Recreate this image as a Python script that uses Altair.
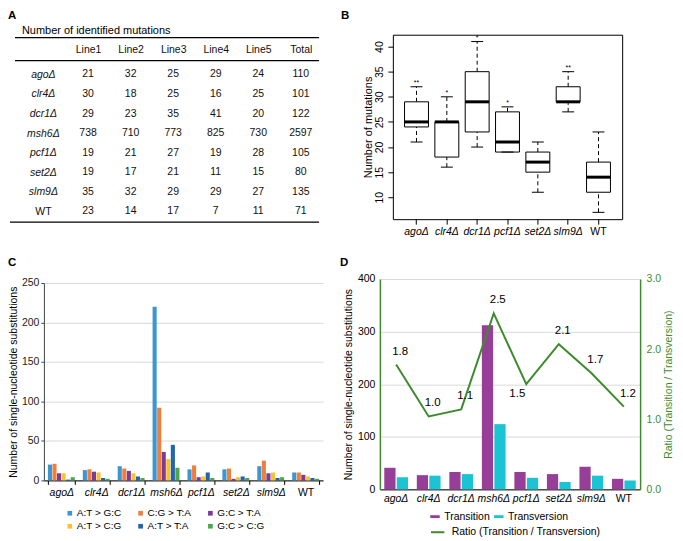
import altair as alt
import pandas as pd

FONT = "Liberation Sans"
GREEN = "#3E8B2E"

# ---------------- data ----------------
genotypes = ["agoΔ", "clr4Δ", "dcr1Δ", "msh6Δ", "pcf1Δ", "set2Δ", "slm9Δ", "WT"]
table_cols = ["Line1", "Line2", "Line3", "Line4", "Line5", "Total"]
line1 = [21, 30, 29, 738, 19, 19, 35, 23]
line2 = [32, 18, 23, 710, 21, 17, 32, 14]
line3 = [25, 25, 35, 773, 27, 21, 29, 17]
line4 = [29, 16, 41, 825, 19, 11, 29, 7]
line5 = [24, 25, 20, 730, 28, 15, 27, 11]
total = [110, 101, 122, 2597, 105, 80, 135, 71]
table_title = "Number of identified mutations"

box_genotypes = ["agoΔ", "clr4Δ", "dcr1Δ", "pcf1Δ", "set2Δ", "slm9Δ", "WT"]
significance = ["**", "*", "*", "*", "", "**", ""]

subst_types = ["A:T > G:C", "C:G > T:A", "G:C > T:A", "A:T > C:G", "A:T > T:A", "G:C > C:G"]
subst_colors = ["#3A97D4", "#F07F3C", "#7B3C99", "#FCC12E", "#2265AE", "#4CA64C"]
at_gc = [20, 13, 18, 220, 14, 14, 18, 10]
cg_ta = [21, 14, 15, 92, 19, 15, 25, 10]
gc_ta = [9, 11, 12, 36, 4, 2, 9, 7]
at_cg = [9, 10, 9, 27, 5, 4, 10, 5]
at_ta = [1, 3, 5, 45, 10, 5, 3, 3]
gc_cg = [4, 2, 3, 16, 3, 3, 4, 2]

class_names = ["Transition", "Transversion"]
class_colors = ["#973F98", "#1BC3D3"]
transition = [41, 27, 33, 312, 33, 29, 43, 20]
transversion = [23, 26, 29, 124, 22, 14, 26, 17]
ratio = [1.78, 1.04, 1.14, 2.51, 1.50, 2.07, 1.66, 1.18]
ratio_name = "Ratio (Transition / Transversion)"

y_title_subst = "Number of single-nucleotide substitutions"

# ---------------- tables ----------------
line_arrays = [line1, line2, line3, line4, line5, total]
df_tbl = pd.DataFrame([
    {"genotype": g, "column": c, "value": arr[i]}
    for i, g in enumerate(genotypes)
    for c, arr in zip(table_cols, line_arrays)
])

df_box = pd.DataFrame([
    {"genotype": g, "mutations": arr[genotypes.index(g)]}
    for g in box_genotypes
    for arr in line_arrays[:5]
])
df_sig = pd.DataFrame({"genotype": box_genotypes, "sig": significance})

subst_arrays = [at_gc, cg_ta, gc_ta, at_cg, at_ta, gc_cg]
df_sub = pd.DataFrame([
    {"genotype": g, "type": t, "count": arr[i]}
    for i, g in enumerate(genotypes)
    for t, arr in zip(subst_types, subst_arrays)
])

df_cls = pd.DataFrame([
    {"genotype": g, "cls": c, "count": arr[i]}
    for i, g in enumerate(genotypes)
    for c, arr in zip(class_names, [transition, transversion])
])
df_ratio = pd.DataFrame({"genotype": genotypes, "ratio": ratio, "series": [ratio_name] * len(genotypes)})

italic_cond = {"condition": {"test": "datum.value == 'WT'", "value": "normal"}, "value": "italic"}
one = pd.DataFrame({"k": [0]})


def label(txt, x, y, size=11.5, weight="bold", align="left", baseline="top"):
    return alt.Chart(pd.DataFrame({"t": [txt]})).mark_text(
        fontSize=size, fontWeight=weight, align=align, baseline=baseline, font=FONT, color="black"
    ).encode(text="t:N", x=alt.value(x), y=alt.value(y))


def hrule(x1, x2, y):
    return alt.Chart(one).mark_rule(color="black", strokeWidth=1.2).encode(
        x=alt.value(x1), x2=alt.value(x2), y=alt.value(y))


# ---------------- panel A ----------------
A_text = alt.Chart(df_tbl).mark_text(fontSize=10.5, font=FONT, color="#111").encode(
    x=alt.X("column:N", sort=table_cols,
            scale=alt.Scale(domain=table_cols, range=[23, 279], paddingInner=0, paddingOuter=0),
            axis=alt.Axis(orient="top", title=None, domain=False, ticks=False, tickSize=0, labelAngle=0,
                          labelPadding=0, offset=-15, labelBaseline="middle", labelAlign="center",
                          labelFontSize=10.5, labelColor="#111")),
    y=alt.Y("genotype:N", sort=genotypes,
            scale=alt.Scale(domain=genotypes, range=[30, 187], paddingInner=0, paddingOuter=0),
            axis=alt.Axis(orient="left", title=None, domain=False, ticks=False, tickSize=0,
                          labelPadding=0, offset=1, labelAlign="center", labelBaseline="middle",
                          labelFontStyle=italic_cond, labelFontSize=10.5, labelColor="#111")),
    text="value:Q",
)
panelA = alt.layer(
    A_text,
    hrule(-29, 276, 3), hrule(-29, 276, 26), hrule(-34, 276, 188),
    label(table_title, -22, -4, size=11, weight="normal", baseline="middle"),
    label("A", -36, -25),
).properties(width=292, height=189)

# ---------------- panel B ----------------
bx = alt.X("genotype:N", sort=box_genotypes,
           scale=alt.Scale(domain=box_genotypes, paddingInner=0, paddingOuter=0.28),
           axis=alt.Axis(title=None, domain=False, ticks=True, tickSize=5, tickColor="black", labelAngle=0,
                         labelPadding=2, labelFontSize=10.5, labelFontStyle=italic_cond, grid=False,
                         labelColor="black"))
yscaleB = alt.Scale(domain=[5.64, 42.36], nice=False, zero=False)
yaxisB = alt.Axis(title="Number of mutations", values=[10, 15, 20, 25, 30, 35, 40], labelAngle=270,
                  labelAlign="center", labelBaseline="bottom", tickSize=5, labelPadding=3, domain=False,
                  grid=False, ticks=True, tickColor="black", labelFontSize=10.5, titleFontSize=11,
                  titlePadding=1, labelColor="black")
baseB = alt.Chart(df_box).transform_aggregate(
    mn="min(mutations)", q1="q1(mutations)", med="median(mutations)", q3="q3(mutations)",
    mx="max(mutations)", groupby=["genotype"])
wl = baseB.mark_rule(color="black", strokeDash=[4, 3], strokeWidth=1).encode(
    x=bx, y=alt.Y("mn:Q", scale=yscaleB, axis=yaxisB), y2="q1:Q")
wh = baseB.mark_rule(color="black", strokeDash=[4, 3], strokeWidth=1).encode(
    x=bx, y=alt.Y("q3:Q", scale=yscaleB, axis=yaxisB), y2="mx:Q")
bxs = baseB.mark_bar(size=24, fill="white", stroke="black", strokeWidth=1).encode(
    x=bx, y=alt.Y("q1:Q", scale=yscaleB, axis=yaxisB), y2="q3:Q")
med = baseB.mark_tick(size=24, thickness=3, color="black", opacity=1).encode(
    x=bx, y=alt.Y("med:Q", scale=yscaleB, axis=yaxisB))
cl = baseB.mark_tick(size=12, thickness=1, color="black", opacity=1).encode(
    x=bx, y=alt.Y("mn:Q", scale=yscaleB, axis=yaxisB))
ch = baseB.mark_tick(size=12, thickness=1, color="black", opacity=1).encode(
    x=bx, y=alt.Y("mx:Q", scale=yscaleB, axis=yaxisB))
sig = baseB.transform_lookup(
    lookup="genotype", from_=alt.LookupData(df_sig, "genotype", ["sig"])
).mark_text(fontSize=7, baseline="bottom", dy=-1, font=FONT, color="black").encode(
    x=bx, y=alt.Y("mx:Q", scale=yscaleB, axis=yaxisB), text="sig:N")
panelB = alt.layer(wl, wh, bxs, med, cl, ch, sig, label("B", -52, -25)).properties(
    width=230, height=185, view=alt.ViewBackground(stroke="black", strokeWidth=1))

# ---------------- panel C ----------------
C_bars = alt.Chart(df_sub).mark_bar().encode(
    x=alt.X("genotype:N", sort=genotypes,
            scale=alt.Scale(domain=genotypes, paddingInner=0.23, paddingOuter=0.115),
            axis=alt.Axis(title=None, labelAngle=0, labelFontStyle=italic_cond, labelFontSize=10.5,
                          domain=True, domainColor="black", ticks=True, tickBand="extent", tickSize=4,
                          tickColor="black", labelPadding=3, grid=False, labelColor="black")),
    xOffset=alt.XOffset("type:N", sort=subst_types, scale=alt.Scale(domain=subst_types, paddingInner=0.1)),
    y=alt.Y("count:Q", scale=alt.Scale(domain=[0, 250], nice=False),
            axis=alt.Axis(title=y_title_subst, values=[0, 50, 100, 150, 200, 250], grid=True,
                          gridColor="#d9d9d9", domain=True, domainColor="#444", ticks=True, tickSize=3,
                          tickColor="#444", labelFontSize=10.5, titleFontSize=10.5, titlePadding=3,
                          labelColor="#222")),
    color=alt.Color("type:N", sort=subst_types, scale=alt.Scale(domain=subst_types, range=subst_colors),
                    legend=alt.Legend(title=None, orient="none", legendX=21, legendY=226, columns=3,
                                      direction="horizontal", symbolType="square", symbolSize=22,
                                      symbolStrokeWidth=0, labelFontSize=10, columnPadding=14,
                                      rowPadding=3, labelOffset=2, labelLimit=0)),
)
panelC = alt.layer(C_bars, label("C", -36, -26)).properties(width=280, height=198)

# ---------------- panel D ----------------
dx = alt.X("genotype:N", sort=genotypes,
           scale=alt.Scale(domain=genotypes, paddingInner=0.27, paddingOuter=0.135),
           axis=alt.Axis(title=None, labelAngle=0, labelFontStyle=italic_cond, labelFontSize=10.5,
                         domain=True, domainColor="black", ticks=False, labelPadding=4, grid=False,
                         labelColor="black"))
D_bars = alt.Chart(df_cls).mark_bar().encode(
    x=dx,
    xOffset=alt.XOffset("cls:N", sort=class_names, scale=alt.Scale(domain=class_names, paddingInner=0.1)),
    y=alt.Y("count:Q", scale=alt.Scale(domain=[0, 400], nice=False),
            axis=alt.Axis(title=y_title_subst, values=[0, 100, 200, 300, 400], grid=True,
                          gridColor="#d9d9d9", domain=True, domainColor=GREEN, domainWidth=1.5,
                          ticks=False, labelPadding=5, labelFontSize=10.5, titleFontSize=10.5,
                          titlePadding=4, labelColor="black")),
    color=alt.Color("cls:N", sort=class_names, scale=alt.Scale(domain=class_names, range=class_colors),
                    legend=alt.Legend(title=None, orient="none", legendX=50, legendY=233,
                                      direction="horizontal", symbolType="M-1.5,-0.45H1.5V0.45H-1.5Z",
                                      symbolSize=40, symbolStrokeWidth=0, labelFontSize=10.5,
                                      columnPadding=3, labelOffset=4, labelLimit=0)),
)
yscaleR = alt.Scale(domain=[0, 3], nice=False)
yaxisR = alt.Axis(orient="right", title=ratio_name, values=[0, 1, 2, 3], format=".1f",
                  domain=True, domainColor=GREEN, domainWidth=1.5, ticks=False, grid=False,
                  labelColor=GREEN, titleColor=GREEN, labelPadding=6, labelFontSize=10.5,
                  titleFontSize=10.5, titleAngle=270, titleBaseline="top", titlePadding=3)
D_line = alt.Chart(df_ratio).mark_line(strokeWidth=2).encode(
    x=dx,
    y=alt.Y("ratio:Q", scale=yscaleR, axis=yaxisR),
    stroke=alt.Stroke("series:N", scale=alt.Scale(domain=[ratio_name], range=[GREEN]),
                      legend=alt.Legend(title=None, orient="none", legendX=50, legendY=246,
                                        symbolType="stroke", symbolStrokeWidth=2, symbolSize=180,
                                        labelFontSize=10.5, labelOffset=6, labelLimit=0)),
)
D_txt_up = alt.Chart(df_ratio).transform_filter("datum.genotype != 'pcf1Δ'").mark_text(
    dy=-13, dx=4, fontSize=11.5, font=FONT, color="black").encode(
    x=dx, y=alt.Y("ratio:Q", scale=yscaleR, axis=yaxisR), text=alt.Text("ratio:Q", format=".1f"))
D_txt_dn = alt.Chart(df_ratio).transform_filter("datum.genotype == 'pcf1Δ'").mark_text(
    dy=10, dx=-9, fontSize=11.5, font=FONT, color="black").encode(
    x=dx, y=alt.Y("ratio:Q", scale=yscaleR, axis=yaxisR), text=alt.Text("ratio:Q", format=".1f"))
D_right = alt.layer(D_line, D_txt_up, D_txt_dn)
panelD = alt.layer(D_bars, D_right, label("D", -40, -22)).resolve_scale(y="independent").properties(
    width=261, height=211)

chart = alt.concat(
    panelA, panelB, panelC, panelD, columns=2,
    spacing={"row": 20, "column": 5}, align="none",
).resolve_scale(
    color="independent", stroke="independent", xOffset="independent"
).resolve_legend(
    color="independent", stroke="independent"
).properties(padding=0).configure(font=FONT).configure_view(stroke=None).configure_axis(
    labelFont=FONT, titleFont=FONT, titleFontWeight="normal", titleColor="black"
).configure_legend(labelFont=FONT, labelColor="black")

chart.save("out.html", embed_options={"renderer": "svg", "actions": False})
